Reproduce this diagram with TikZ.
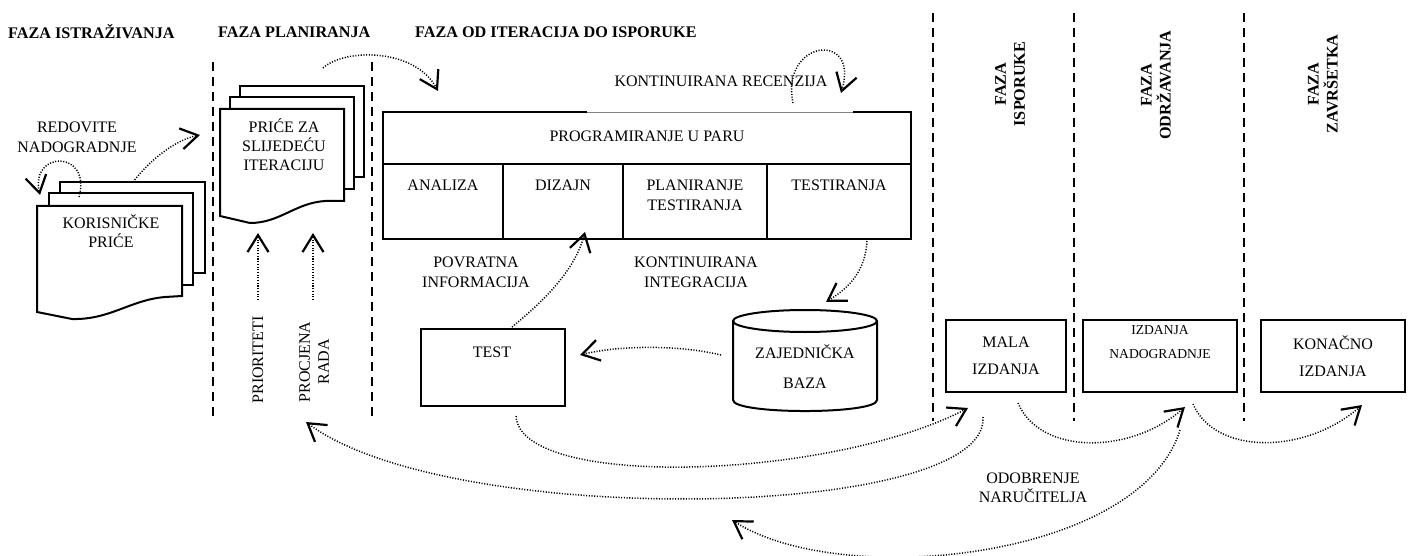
\documentclass[tikz,border=0pt]{standalone}
\usepackage{fontspec}
\setmainfont{Liberation Serif}
\usetikzlibrary{arrows.meta,calc}
\newcommand{\fzl}[1]{\fontsize{16}{#1}\selectfont}
\newcommand{\fzb}{\fontsize{16.2}{19}\selectfont\bfseries}
\begin{document}
\begin{tikzpicture}[x=1pt,y=-1pt,
  txt/.style={font=\fzl{19}, inner sep=0pt, align=center},
  hdr/.style={font=\fzb, inner sep=0pt, align=center},
  boxline/.style={line width=2pt},
  frame/.style={draw, line width=2pt, fill=white, inner sep=0pt},
  sep/.style={line width=1.8pt, dash pattern=on 9pt off 6pt},
  page/.style={draw, line width=2pt, fill=white, line join=miter},
  dots/.style={line width=1.5pt, dash pattern=on 1.1pt off 1.6pt,
    -{Straight Barb[length=17pt,width=21pt,line width=2.2pt]}},
]
\useasboundingbox (0,0) rectangle (1413,556);
\fill[white] (0,0) rectangle (1413,556);

% headers
\node[hdr, anchor=west] (h1) at (8,32) {FAZA ISTRAŽIVANJA};
\node[hdr, anchor=west] (h2) at (218,32) {FAZA PLANIRANJA};
\node[hdr, anchor=west] (h3) at (415,32) {FAZA OD ITERACIJA DO ISPORUKE};
\node[hdr, rotate=90] (h4) at (1010,84) {FAZA\\ISPORUKE};
\node[hdr, rotate=90] (h5) at (1156,85) {FAZA\\ODRŽAVANJA};
\node[hdr, rotate=90] (h6) at (1323,84) {FAZA\\ZAVRŠETKA};

% separators
\draw[sep] (213,62) -- (213,421);
\draw[sep] (372,62) -- (372,421);
\draw[sep] (933,13) -- (933,421);
\draw[sep] (1074,13) -- (1074,421);
\draw[sep] (1244,13) -- (1244,421);

% user stories stack
\draw[page] (60,182) rectangle (205,273);
\draw[page] (49,193) rectangle (193,285);
\draw[page] (37,206) -- (182,206) -- (182,296) -- (165,297) .. controls (130,300) and (110,320) .. (72,319) -- (37,312) -- cycle;
\node[txt] (korisnicke) at (111,231) {KORISNIČKE\\PRIĆE};
\node[txt, font=\fzl{20}] (redovite) at (77,137) {REDOVITE\\NADOGRADNJE};

% next-iteration stack
\draw[page] (240,86) rectangle (364,177);
\draw[page] (230,97) rectangle (354,189);
\draw[page] (220,109) -- (344,109) -- (344,201) -- (325,201) .. controls (295,203) and (280,223) .. (250,223) -- (220,216) -- cycle;
\node[txt] (price) at (284,145) {PRIĆE ZA\\SLIJEDEĆU\\ITERACIJU};

\node[txt, rotate=90] (prior) at (258,360) {PRIORITETI};
\node[txt, rotate=90] (procj) at (314,362) {PROCJENA\\RADA};

% big box
\node[txt] (recenz) at (721,81) {KONTINUIRANA RECENZIJA};
\draw[boxline] (587,112) -- (383,112) -- (383,239) -- (911,239) -- (911,112) -- (853,112);
\draw[line width=0.8pt, gray] (587,112) -- (853,112);
\draw[boxline] (383,164) -- (911,164);
\draw[boxline] (503,164) -- (503,239) (623,164) -- (623,239) (767,164) -- (767,239);
\node[txt] (pp) at (647,136) {PROGRAMIRANJE U PARU};
\node[txt] (analiza) at (443,185) {ANALIZA};
\node[txt] (dizajn) at (563,185) {DIZAJN};
\node[txt, font=\fzl{20}] (plan) at (695,195) {PLANIRANJE\\TESTIRANJA};
\node[txt] (testir) at (839,185) {TESTIRANJA};

\node[txt, font=\fzl{20}] (povratna) at (476,272) {POVRATNA\\INFORMACIJA};
\node[txt, font=\fzl{20}] (integr) at (696,272) {KONTINUIRANA\\INTEGRACIJA};

% test box
\node[frame, minimum width=144pt, minimum height=77pt] (testbox) at (493,367.5) {};
\node[txt] (test) at (492,352) {TEST};

% database
\draw[boxline] (733,321) -- (733,400) .. controls (733,414.7) and (877,414.7) .. (877,400) -- (877,321);
\draw[boxline] (805,321) ellipse [x radius=72pt, y radius=11pt];
\node[txt, font=\fzl{30}] (baza) at (805,367) {ZAJEDNIČKA\\BAZA};

% release boxes
\node[frame, txt, font=\fzl{27}, minimum width=120pt, minimum height=72pt] (mala) at (1006,356) {MALA\\IZDANJA};
\node[frame, txt, font={\fontsize{13.6}{24}\selectfont}, minimum width=154pt, minimum height=72pt] (nadog) at (1160,356) {IZDANJA\\NADOGRADNJE\\[4pt]};
\node[frame, txt, font=\fzl{27}, minimum width=144pt, minimum height=72pt] (konacno) at (1333,356) {KONAČNO\\IZDANJA};

\node[txt] (odobr) at (1033,487.5) {ODOBRENJE\\NARUČITELJA};

% connector end points
\coordinate (k1) at (133,182);  \coordinate (p1) at (200,135);
\coordinate (r1) at (79,197);   \coordinate (r2) at (40,195);
\coordinate (p2) at (323,68);   \coordinate (b1) at (438,91);
\coordinate (pr1) at (258,300); \coordinate (pr2) at (258,233);
\coordinate (pc1) at (313,300); \coordinate (pc2) at (313,233);
\coordinate (rc1) at (793,103); \coordinate (rc2) at (841,93);
\coordinate (t1) at (512,327);  \coordinate (d1) at (585,232);
\coordinate (ts1) at (867,241); \coordinate (z1) at (826,302);
\coordinate (z2) at (721,355);  \coordinate (t2) at (580,355);
\coordinate (t3) at (516,416);  \coordinate (m1) at (968,408);
\coordinate (m2) at (983,417);  \coordinate (pl1) at (306,422);
\coordinate (n1) at (1180,430); \coordinate (o1) at (732,520);
\coordinate (m3) at (1018,403); \coordinate (n2) at (1185,407);
\coordinate (n3) at (1193,404); \coordinate (kc1) at (1362,405);

\draw[dots] (k1) .. controls (150,160) and (175,140) .. (p1);
\draw[dots] (r1) .. controls (92,150) and (30,150) .. (r2);
\draw[dots] (p2) .. controls (345,48) and (415,48) .. (b1);
\draw[dots] (pr1) -- (pr2);
\draw[dots] (pc1) -- (pc2);
\draw[dots] (rc1) .. controls (780,40) and (860,30) .. (rc2);
\draw[dots] (t1) .. controls (545,300) and (575,270) .. (d1);
\draw[dots] (ts1) .. controls (865,275) and (845,290) .. (z1);
\draw[dots] (z2) .. controls (680,345) and (620,345) .. (t2);
\draw[dots] (t3) .. controls (520,490) and (830,480) .. (m1);
\draw[dots] (m2) .. controls (990,520) and (450,530) .. (pl1);
\draw[dots] (n1) .. controls (1140,560) and (840,590) .. (o1);
\draw[dots] (m3) .. controls (1040,455) and (1130,455) .. (n2);
\draw[dots] (n3) .. controls (1215,455) and (1305,455) .. (kc1);
\end{tikzpicture}
\end{document}
